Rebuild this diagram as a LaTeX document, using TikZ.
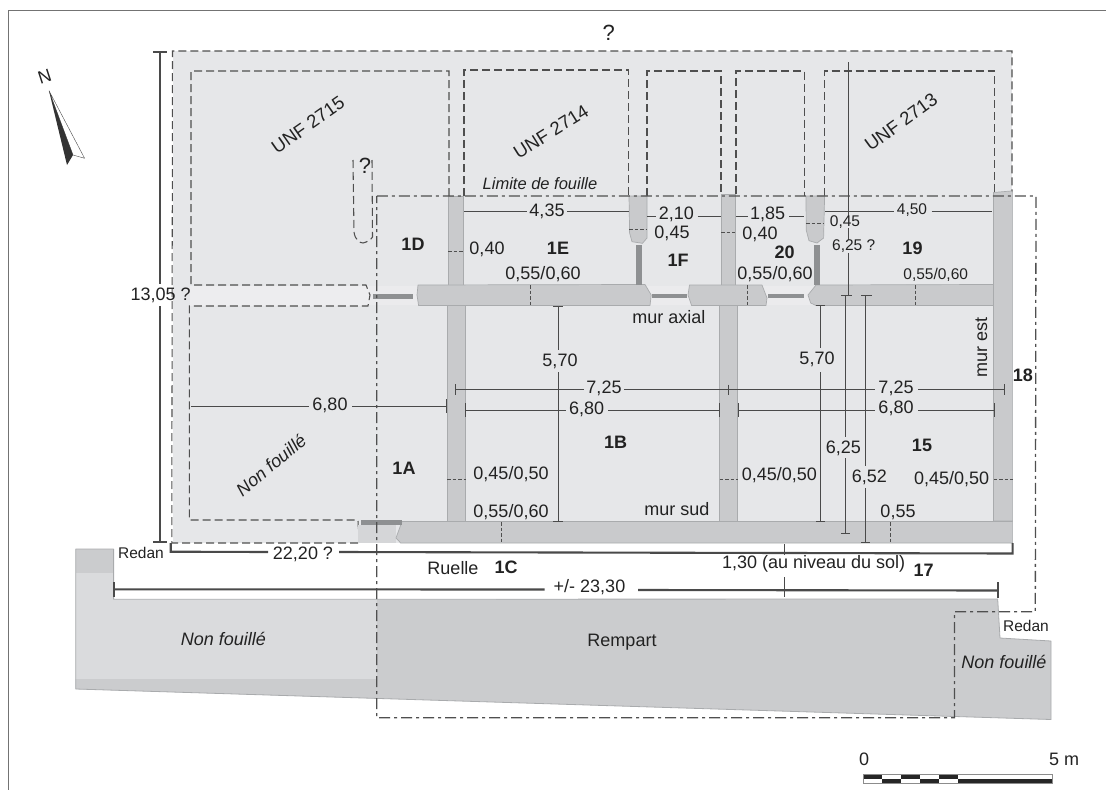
\documentclass[tikz,border=0pt]{standalone}
\usepackage{fontspec}
\setmainfont{Liberation Sans}
\definecolor{zone}{HTML}{E6E7E9}
\definecolor{strip}{HTML}{EDEDEF}
\definecolor{wallc}{HTML}{C9CACC}
\definecolor{walle}{HTML}{A9ABAD}
\definecolor{barc}{HTML}{8E9092}
\definecolor{ramlight}{HTML}{DADBDD}
\definecolor{ramdark}{HTML}{CBCCCE}
\definecolor{ink}{HTML}{222222}
\definecolor{dimc}{HTML}{4A4A4A}
\definecolor{dashc}{HTML}{4F4F4F}
\tikzset{
  x=1pt,y=-1pt,
  lbl/.style={text=ink,inner sep=0pt,font=\fontsize{18}{20}\selectfont},
  lblu/.style={text=ink,inner sep=0pt,font=\fontsize{18.5}{20}\selectfont},
  lblq/.style={text=ink,inner sep=0pt,font=\fontsize{22}{24}\selectfont},
  lblsm/.style={text=ink,inner sep=0pt,font=\fontsize{15.5}{18}\selectfont},
  lblb/.style={text=ink,inner sep=0pt,font=\bfseries\fontsize{18}{20}\selectfont},
  lbli/.style={text=ink,inner sep=0pt,font=\itshape\fontsize{18}{20}\selectfont},
  wall/.style={fill=wallc,draw=walle,line width=0.7pt,line join=round},
  bar/.style={fill=barc,draw=none},
  dimthin/.style={draw=dimc,line width=0.9pt},
  dimthick/.style={draw=dimc,line width=2.1pt},
  roomd/.style={draw=dashc,line width=1.05pt,dash pattern=on 8pt off 4pt},
  limitd/.style={draw=dashc,line width=1.3pt,dash pattern=on 11pt off 4pt on 3pt off 4pt},
  wdash/.style={draw=dashc,line width=0.9pt,dash pattern=on 3.5pt off 2pt},
}
\begin{document}
\begin{tikzpicture}
\useasboundingbox (0,0) rectangle (1106,790);
% frame
\draw[draw=black!55,line width=1pt] (8.5,790) -- (8.5,10.5) -- (1106,10.5);
% grey zone
\fill[zone] (172.5,51) rectangle (1012,543);
% strip of the axial wall
\fill[strip] (190,286) rectangle (369,306);
\fill[strip!70!zone] (369,286) rectangle (420,305);
\fill[strip!70!zone] (646,286) rectangle (820,305);
% rampart
\fill[ramlight] (75.7,549) -- (113.6,549) -- (113.6,599.3) -- (376.8,599.3) -- (376.8,698.4) -- (75.7,689) -- cycle;
\fill[ramdark] (75.7,549) -- (113.6,549) -- (113.6,573) -- (75.7,573) -- cycle;
\fill[ramdark] (75.7,679) -- (376.8,679) -- (376.8,698.4) -- (75.7,689) -- cycle;
\fill[ramdark] (376.8,599.3) -- (997.7,599) -- (1000,638) -- (1051,641) -- (1051,719.5) -- (376.8,698.4) -- cycle;
\draw[draw=walle,line width=0.8pt,line join=round] (75.7,689) -- (75.7,549) -- (113.6,549) -- (113.6,599.3) -- (997.7,599) -- (1000,638) -- (1051,641) -- (1051,719.5) -- cycle;
% dashes of the zone
\draw[roomd] (358,543) -- (171.8,543) -- (172.5,51) -- (1012,51) -- (1012,192);
% rooms
\draw[roomd] (449,196) -- (449,71) -- (191,71) -- (191,285) -- (366,285) -- (370,295) -- (368,306) -- (189.3,306) -- (189.3,520) -- (355,520);
\draw[roomd] (358,521) -- (359,542);
\draw[roomd] (353,160) -- (354,232) .. controls (355,240) and (360,243) .. (363,243) .. controls (367,242) and (371,240) .. (372.5,237) -- (372,160);
\draw[roomd] (464,196) -- (464,70) -- (628.6,70) -- (628.6,196);
\draw[roomd] (647,196) -- (647,71) -- (721,71) -- (721,194);
\draw[roomd] (736,194) -- (736,71) -- (804.4,71) -- (804.4,196);
\draw[roomd] (824.6,196) -- (824.6,71) -- (994.2,71) -- (994.2,192);
% walls
\fill[wallc!60!zone] (358,525) rectangle (396,543);
\filldraw[wall] (448,196) rectangle (463.6,285);
\filldraw[wall] (447,305.5) rectangle (465.7,521);
\filldraw[wall] (721,194) rectangle (735,285);
\filldraw[wall] (719.5,305.5) rectangle (737.6,521);
\filldraw[wall] (993.5,192.5) -- (1011,191) -- (1012.6,192) -- (1012.6,521) -- (993.5,521) -- cycle;
\filldraw[wall] (418,285) -- (645,284.5) -- (651.2,295) -- (650,305.5) -- (418.6,305.5) -- (417,295) -- cycle;
\filldraw[wall] (689.5,285) -- (762,285) -- (767,298) -- (766,305.5) -- (691.6,305.5) -- (688,295) -- cycle;
\filldraw[wall] (816,285) -- (993.5,284.5) -- (993.5,305.5) -- (816,305.5) -- (810.7,303) -- (808,295) -- cycle;
\filldraw[wall] (629,196) -- (647,196) -- (647,238) -- (642.5,243.3) -- (632,241.7) -- (629.6,233) -- cycle;
\filldraw[wall] (806,196) -- (824.6,196) -- (823.6,238) -- (817,243) -- (809,240.7) -- (806.2,230) -- cycle;
\filldraw[wall] (402,521.5) -- (1012.6,521.5) -- (1012.6,543) -- (400.7,543) -- (396,538) -- cycle;
% thin wall bars
\fill[bar] (372.5,294) rectangle (412.5,299);
\fill[bar] (652.3,293.7) rectangle (687,298.3);
\fill[bar] (767.9,293.7) rectangle (803.7,298.3);
\fill[bar] (636,245) rectangle (641.5,285);
\fill[bar] (814,245) rectangle (819.8,285);
\fill[bar] (360.7,520) rectangle (402,525);
% limit of the excavation
\draw[limitd] (376.8,196) -- (1036,196) -- (1035.3,611.7) -- (954.5,611.7) -- (954.5,717.7) -- (376.8,717.7) -- cycle;
% wall width ticks
\draw[wdash] (448,251) -- (463.6,251);
\draw[wdash] (447,479) -- (465.7,479);
\draw[wdash] (629,229.3) -- (647,229.3);
\draw[wdash] (721,232.3) -- (735,232.3);
\draw[wdash] (806,223.3) -- (824,223.3);
\draw[wdash] (719.5,479.5) -- (737.6,479.5);
\draw[wdash] (993.5,479.5) -- (1012.6,479.5);
\draw[wdash] (530,285) -- (530,305.5);
\draw[wdash] (747.3,285) -- (747.3,305.5);
\draw[wdash] (915.5,285) -- (915.5,305.5);
\draw[wdash] (501,522) -- (501,543);
\draw[wdash] (890,522) -- (890,543);
% thick dimensions
\draw[dimthick] (153,51.7) -- (167,51.7);
\draw[dimthick] (159.6,51.7) -- (159.6,284);
\draw[dimthick] (159.6,306) -- (159.6,541.6);
\draw[dimthick] (153,541.6) -- (167,541.6);
\draw[dimthick] (170.7,543) -- (170.7,551.7) -- (268,552);
\draw[dimthick] (339,552) -- (1012.6,553.5) -- (1012.6,543);
\draw[dimthick] (114,582) -- (114,597);
\draw[dimthick] (114,589.3) -- (544.6,589.5);
\draw[dimthick] (638,590) -- (997.7,590.5);
\draw[dimthick] (997.7,582) -- (997.7,598);
% thin dimensions
\draw[dimthin] (464,211) -- (527,211);
\draw[dimthin] (567,211) -- (628.6,211);
\draw[dimthin] (647,216) -- (655.7,216);
\draw[dimthin] (697.5,216) -- (721,216);
\draw[dimthin] (736,216) -- (748,216);
\draw[dimthin] (789,216) -- (804.4,216);
\draw[dimthin] (825.3,211) -- (893.6,211);
\draw[dimthin] (931.5,211) -- (991.8,211);
\draw[dimthin] (191,406) -- (309,406);
\draw[dimthin] (352,406) -- (446,406);
\draw[dimthin] (446,399) -- (446,413);
\draw[dimthin] (465,403) -- (465,417);
\draw[dimthin] (465,410) -- (566,410);
\draw[dimthin] (608,410) -- (719,410);
\draw[dimthin] (719,403) -- (719,417);
\draw[dimthin] (738,403) -- (738,417);
\draw[dimthin] (738,410) -- (875,410);
\draw[dimthin] (918,410) -- (994.5,410);
\draw[dimthin] (994.5,403) -- (994.5,417);
\draw[dimthin] (455,384) -- (455,395);
\draw[dimthin] (455,389.5) -- (584,389.5);
\draw[dimthin] (624,389.5) -- (875,389.5);
\draw[dimthin] (728,384.5) -- (728,395);
\draw[dimthin] (918,389.5) -- (1004,389.5);
\draw[dimthin] (1004,384) -- (1004,395);
% vertical dimensions
\draw[dimthin] (558,306) -- (558,350);
\draw[dimthin] (558,372) -- (558,521);
\draw[dimthin] (553,306) -- (563,306);
\draw[dimthin] (553,521) -- (563,521);
\draw[dimthin] (820.4,305.5) -- (820.4,348);
\draw[dimthin] (820.4,372) -- (820.4,521);
\draw[dimthin] (816,305.5) -- (825,305.5);
\draw[dimthin] (816,521) -- (825,521);
\draw[dimthin] (845.5,295.3) -- (845.5,437);
\draw[dimthin] (845.5,458) -- (845.5,533.3);
\draw[dimthin] (841,295.3) -- (852,295.3);
\draw[dimthin] (841,533.3) -- (850,533.3);
\draw[dimthin] (865.7,295.3) -- (865.7,466);
\draw[dimthin] (865.7,488) -- (865.7,542.5);
\draw[dimthin] (861,295.3) -- (871.6,295.3);
\draw[dimthin] (861,542.5) -- (870,542.5);
\draw[dimthin] (848.3,62) -- (848.3,216);
\draw[dimthin] (848.3,228) -- (848.3,240);
\draw[dimthin] (848.3,253) -- (848.3,295.3);
\draw[dimthin] (784.6,544) -- (784.6,555);
\draw[dimthin] (784.6,577) -- (784.6,597);
% north arrow
\filldraw[fill=white,draw=dimc,line width=0.4pt,line join=round] (49,90.7) -- (84.6,158.3) -- (73,155) -- cycle;
\fill[black!80] (49,90.7) -- (67,165) -- (73,155) -- cycle;
\node[lbl,rotate=18] (north) at (44.6,77) {N};
% scale bar
\fill[white] (863,774.3) rectangle (1052.7,783.3);
\fill[black!85] (863,774.3) rectangle (882.2,778.8);
\fill[black!85] (901.2,774.3) rectangle (919.7,778.8);
\fill[black!85] (938.8,774.3) rectangle (958,778.8);
\fill[black!85] (882.2,778.8) rectangle (901.2,783.3);
\fill[black!85] (919.7,778.8) rectangle (938.8,783.3);
\fill[black!85] (958,778.8) rectangle (1052.7,783.3);
\draw[draw=black!45,line width=0.6pt] (863,774.3) rectangle (1052.7,783.3);
\node[lbl] (sc0) at (864,759) {0};
\node[lbl] (sc5) at (1064,759) {5 m};
% texts
\node[lblq] (qtop) at (608.7,33) {?};
\node[lblq] (qroom) at (365,166) {?};
\node[lblu,rotate=35] (u2715) at (308,125) {UNF 2715};
\node[lblu,rotate=32] (u2714) at (551,131.5) {UNF 2714};
\node[lblu,rotate=36] (u2713) at (901,122) {UNF 2713};
\node[lbli,font=\itshape\fontsize{16.5}{18}\selectfont] (limite) at (540,184) {Limite de fouille};
\node[lbl] (t1305) at (160.6,295) {13,05 ?};
\node[lbl] (t435) at (547,211) {4,35};
\node[lbl] (t210) at (676.3,214) {2,10};
\node[lbl] (t185) at (767.7,214) {1,85};
\node[lblsm] (t450) at (912,210) {4,50};
\node[lbl] (t040a) at (487,249.6) {0,40};
\node[lbl] (t045a) at (672,233) {0,45};
\node[lbl] (t040b) at (760,234) {0,40};
\node[lblsm] (t045b) at (845,222) {0,45};
\node[lblsm] (t625q) at (853.7,246) {6,25 ?};
\node[lbl] (t5560a) at (543,274) {0,55/0,60};
\node[lbl] (t5560b) at (775,274) {0,55/0,60};
\node[lblsm] (t5560c) at (935.7,275) {0,55/0,60};
\node[lbl] (t570a) at (560,361) {5,70};
\node[lbl] (t570b) at (817,359.3) {5,70};
\node[lbl] (t725a) at (604,388) {7,25};
\node[lbl] (t725b) at (896,388) {7,25};
\node[lbl] (t680a) at (330,405) {6,80};
\node[lbl] (t680b) at (586.6,409) {6,80};
\node[lbl] (t680c) at (896,408) {6,80};
\node[lbl] (t625) at (843.4,448.3) {6,25};
\node[lbl] (t652) at (869.4,477) {6,52};
\node[lbl] (t4550a) at (511,474) {0,45/0,50};
\node[lbl] (t4550b) at (779.4,475) {0,45/0,50};
\node[lbl] (t4550c) at (951.7,479.3) {0,45/0,50};
\node[lbl] (t5560d) at (511,512) {0,55/0,60};
\node[lbl] (t055) at (898,512.7) {0,55};
\node[lbl] (t2220) at (303,554) {22,20 ?};
\node[lbl] (t2330) at (589.5,587) {+/- 23,30};
\node[lbl] (t130) at (813.7,564.3) {1,30 (au niveau du sol)};
\node[lbl] (axial) at (669,316.7) {mur axial};
\node[lbl] (sud) at (677,509) {mur sud};
\node[lbl,rotate=90] (est) at (981.3,347.5) {mur est};
\node[lbl] (ruelle) at (453,568) {Ruelle};
\node[lbl] (rempart) at (622,641.7) {Rempart};
\node[lbl,font=\fontsize{15.5}{18}\selectfont] (redana) at (141,553) {Redan};
\node[lbl,font=\fontsize{15.5}{18}\selectfont] (redanb) at (1026,626) {Redan};
\node[lbli,rotate=40] (nf1) at (271,465) {Non fouillé};
\node[lbli] (nf2) at (223.4,639) {Non fouillé};
\node[lbli] (nf3) at (1004,661.7) {Non fouillé};
\node[lblb] (r1d) at (413,244) {1D};
\node[lblb] (r1e) at (558,248) {1E};
\node[lblb] (r1f) at (678,260.7) {1F};
\node[lblb] (r20) at (784.6,252) {20};
\node[lblb] (r19) at (912.5,248) {19};
\node[lblb] (r18) at (1022.8,375.7) {18};
\node[lblb] (r1a) at (404,468) {1A};
\node[lblb] (r1b) at (615.6,442.7) {1B};
\node[lblb] (r15) at (922,445) {15};
\node[lblb] (r1c) at (506,567) {1C};
\node[lblb] (r17) at (923.7,570) {17};
\end{tikzpicture}
\end{document}
